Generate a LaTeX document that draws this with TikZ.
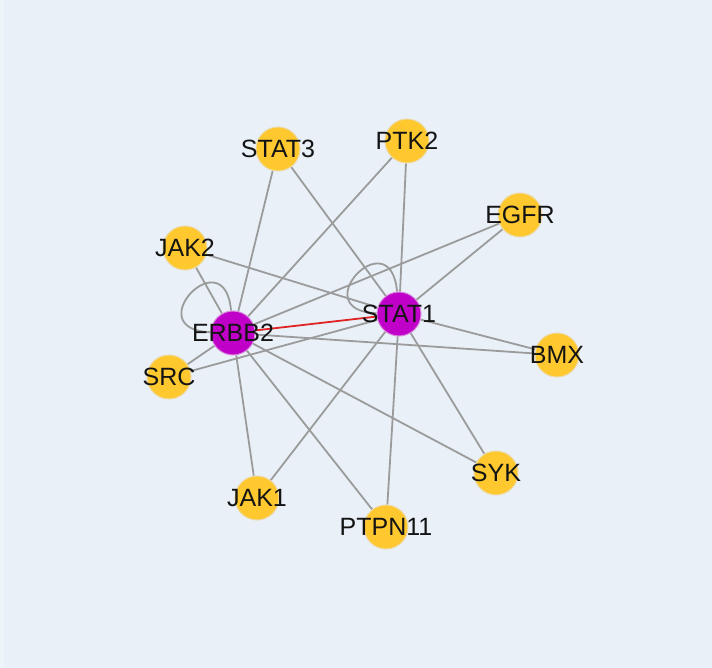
\documentclass[tikz,border=0pt]{standalone}
\usepackage{fontspec}
\setmainfont{Liberation Sans}
\pgfdeclarelayer{back}
\pgfdeclarelayer{links}
\pgfsetlayers{back,links,main}
\definecolor{bgblue}{HTML}{E9F0F8}
\definecolor{stripblue}{HTML}{EEF5F8}
\definecolor{geneyellow}{HTML}{FFC82E}
\definecolor{generim}{HTML}{EDD9A4}
\definecolor{hubpurple}{HTML}{C000C8}
\definecolor{hubrim}{HTML}{D98ADD}
\definecolor{linkgray}{HTML}{9B9B9B}
\definecolor{linkred}{HTML}{E02424}
\tikzset{
  gene/.style={shape=circle, fill=geneyellow, draw=generim, line width=1pt, minimum size=44pt, inner sep=0pt},
  hub/.style={gene, fill=hubpurple, draw=hubrim},
  link/.style={-, line width=1.8pt, draw=linkgray},
  every label/.style={font=\fontsize{25}{29}\selectfont, text=black!92, inner sep=0pt}
}
\begin{document}
\begin{tikzpicture}[x=1pt, y=-1pt]
\useasboundingbox (0,0) rectangle (712,668);
\begin{pgfonlayer}{back}
\fill[bgblue] (0,0) rectangle (712,668);
\fill[stripblue] (0,0) rectangle (4,668);
\end{pgfonlayer}
% hubs
\node[hub, label={center:ERBB2}] (ERBB2) at (233,333) {};
\node[hub, label={center:STAT1}] (STAT1) at (399,314) {};
% partners
\node[gene, label={center:STAT3}] (STAT3) at (278,149) {};
\node[gene, label={center:PTK2}] (PTK2) at (407,141) {};
\node[gene, label={center:EGFR}] (EGFR) at (520,215) {};
\node[gene, label={center:JAK2}] (JAK2) at (185,248) {};
\node[gene, label={center:BMX}] (BMX) at (557,355) {};
\node[gene, label={center:SRC}] (SRC) at (169,377) {};
\node[gene, label={center:SYK}] (SYK) at (496,473) {};
\node[gene, label={center:JAK1}] (JAK1) at (257,498) {};
\node[gene, label={center:PTPN11}] (PTPN11) at (386,527) {};
\begin{pgfonlayer}{links}
\path [link] (STAT3) edge (ERBB2);
\path [link] (STAT3) edge (STAT1);
\path [link] (PTK2) edge (ERBB2);
\path [link] (PTK2) edge (STAT1);
\path [link] (EGFR) edge (ERBB2);
\path [link] (EGFR) edge (STAT1);
\path [link] (JAK2) edge (ERBB2);
\path [link] (JAK2) edge (STAT1);
\path [link] (BMX) edge (ERBB2);
\path [link] (BMX) edge (STAT1);
\path [link] (SRC) edge (ERBB2);
\path [link] (SRC) edge (STAT1);
\path [link] (SYK) edge (ERBB2);
\path [link] (SYK) edge (STAT1);
\path [link] (JAK1) edge (ERBB2);
\path [link] (JAK1) edge (STAT1);
\path [link] (PTPN11) edge (ERBB2);
\path [link] (PTPN11) edge (STAT1);
\path [link] (ERBB2) edge [out=95, in=178, looseness=6.3] (ERBB2);
\path [link] (STAT1) edge [out=95, in=178, looseness=6.3] (STAT1);
\path [link, draw=linkred] (ERBB2) edge (STAT1);
\end{pgfonlayer}
\end{tikzpicture}
\end{document}
